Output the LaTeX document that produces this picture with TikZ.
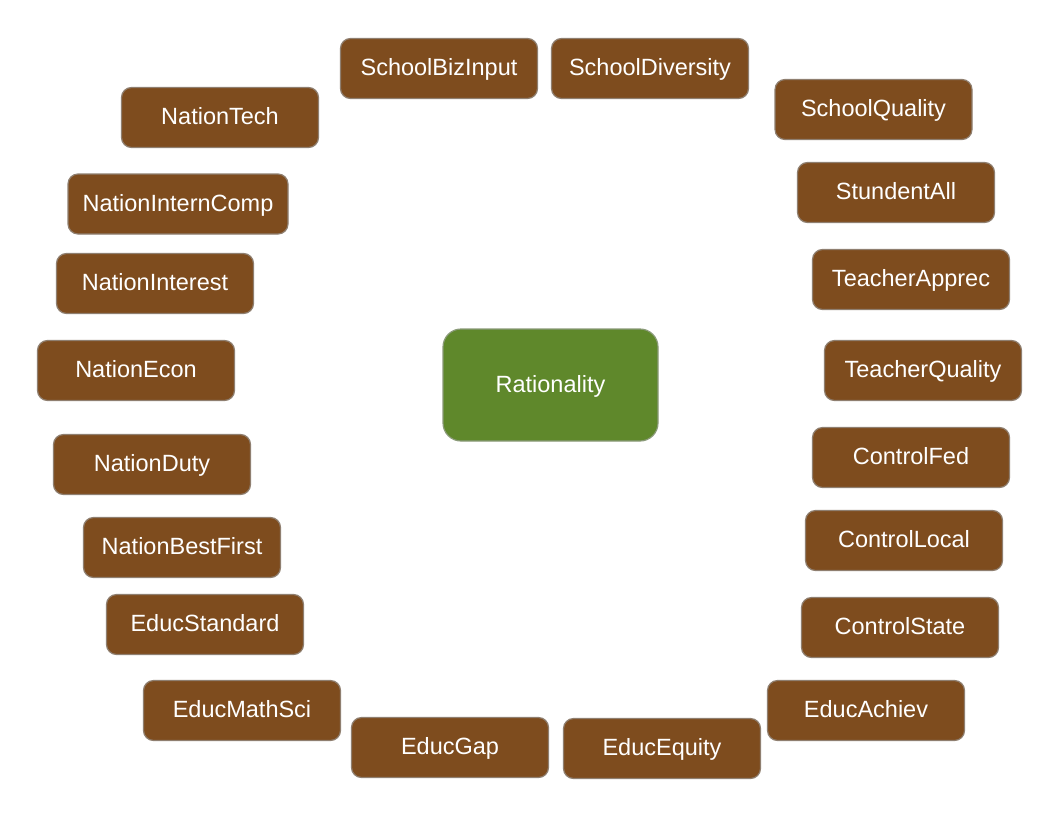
\documentclass[tikz,border=0pt]{standalone}
\usepackage{fontspec}
\setmainfont{Liberation Sans}
\definecolor{boxbrown}{HTML}{7E4C1E}
\definecolor{boxgreen}{HTML}{5F882B}
\definecolor{boxedge}{HTML}{8F7F70}
\definecolor{greenedge}{HTML}{8A9A78}
\begin{document}
\begin{tikzpicture}[x=1pt,y=-1pt,
  item/.style={rectangle, rounded corners=10pt, fill=boxbrown, draw=boxedge, line width=1.2pt,
    minimum width=197pt, minimum height=60pt, inner sep=0pt, text=white,
    text height=18pt, text depth=4pt,
    font=\fontsize{23.5}{28}\selectfont},
  centre/.style={rectangle, rounded corners=18pt, fill=boxgreen, draw=greenedge, line width=1.2pt,
    minimum width=215pt, minimum height=112pt, inner sep=0pt, text=white,
    text height=18pt, text depth=4pt,
    font=\fontsize{23.5}{28}\selectfont}]
\useasboundingbox (0,0) rectangle (1056,816);
\node[centre] (rat) at (550.5,385) {Rationality};
\node[item] (sbi) at (439,68.5) {SchoolBizInput};
\node[item] (sdv) at (650,68.5) {SchoolDiversity};
\node[item] (sq) at (873.5,109.5) {SchoolQuality};
\node[item] (sa) at (896,192.5) {StundentAll};
\node[item] (ta) at (911,279.5) {TeacherApprec};
\node[item] (tq) at (923,370.5) {TeacherQuality};
\node[item] (cf) at (911,457.5) {ControlFed};
\node[item] (cl) at (904,540.5) {ControlLocal};
\node[item] (cs) at (900,627.5) {ControlState};
\node[item] (ea) at (866,710.5) {EducAchiev};
\node[item] (ee) at (662,748.5) {EducEquity};
\node[item] (eg) at (450,747.5) {EducGap};
\node[item] (ems) at (242,710.5) {EducMathSci};
\node[item] (es) at (205,624.5) {EducStandard};
\node[item] (nbf) at (182,547.5) {NationBestFirst};
\node[item] (nd) at (152,464.5) {NationDuty};
\node[item] (ne) at (136,370.5) {NationEcon};
\node[item] (ni) at (155,283.5) {NationInterest};
\node[item, minimum width=220pt] (nic) at (178,204) {NationInternComp};
\node[item] (nt) at (220,117.5) {NationTech};
\end{tikzpicture}
\end{document}
